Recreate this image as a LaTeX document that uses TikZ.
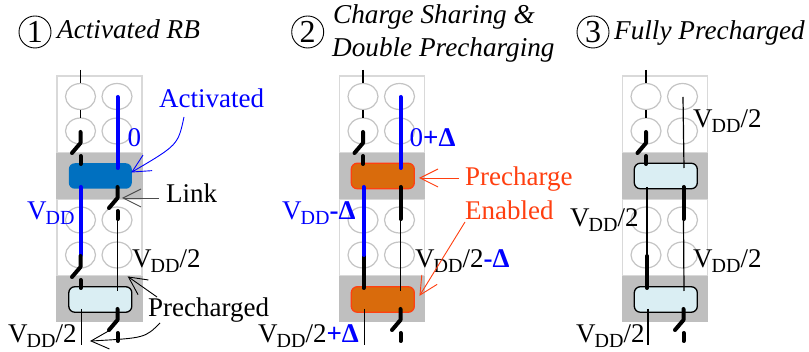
\documentclass[tikz,border=0pt]{standalone}
\usepackage{fontspec}
\setmainfont{Liberation Serif}
\usetikzlibrary{arrows.meta}
\definecolor{bandgray}{HTML}{BFBFBF}
\definecolor{framegray}{HTML}{D9D9D9}
\definecolor{cellgray}{HTML}{C4C4C4}
\definecolor{actblue}{HTML}{0070C0}
\definecolor{preblue}{HTML}{DAEEF3}
\definecolor{preorange}{HTML}{D96B0C}
\definecolor{prered}{HTML}{FF3F10}
\newcommand{\VDD}{V\kern-1pt\raisebox{-5pt}{\fontsize{20}{20}\selectfont DD}}
\newcommand{\bDelta}{\textbf{Δ}}
\pgfdeclarearrow{
  name = VeeHead,
  setup code = {
    \pgfarrowssettipend{0pt}
    \pgfarrowssetlineend{-0.5pt}
    \pgfarrowssetvisualbackend{-1pt}
    \pgfarrowssetbackend{-18pt}
    \pgfarrowshullpoint{0pt}{0pt}
    \pgfarrowshullpoint{-18pt}{9pt}
    \pgfarrowshullpoint{-18pt}{-9pt}
  },
  drawing code = {
    \pgfsetdash{}{0pt}
    \pgfpathmoveto{\pgfpoint{-18pt}{9pt}}
    \pgfpathlineto{\pgfpoint{0pt}{0pt}}
    \pgfpathlineto{\pgfpoint{-18pt}{-9pt}}
    \pgfusepathqstroke
  }
}
\tikzset{
  lbl/.style={inner sep=0pt,anchor=base west,font=\fontsize{27}{30}\selectfont},
  ttl/.style={inner sep=0pt,anchor=base west,font=\fontsize{27.2}{30}\selectfont\itshape},
  numc/.style={draw=black,line width=0.9pt,circle,minimum size=32pt,inner sep=0pt,font=\fontsize{32}{32}\selectfont},
  framebox/.style={draw=framegray,line width=1.2pt,fill=white},
  precell/.style={rectangle,rounded corners=6pt,minimum width=63pt,minimum height=25.5pt,inner sep=0pt},
  boxact/.style={precell,fill=actblue},
  boxpre/.style={precell,fill=preblue,draw=black,line width=1.3pt},
  boxen/.style={precell,fill=preorange,draw=prered,line width=1.3pt},
  hair/.style={black,line width=1.2pt},
  fat/.style={black,line width=4pt,line cap=round,line join=round},
  mid/.style={black,line width=2.4pt},
  bluew/.style={blue,line width=4pt,line cap=round},
  barb/.style={-{VeeHead},line width=0.9pt},
}
% switch: vertical stub, diagonal, and short lower piece
\newcommand{\sw}[2]{%
  \draw[fat] (#1,#2) -- (#1,#2+11) -- (#1-8.5,#2+21);
  \draw[fat] (#1,#2+24) -- (#1,#2+32);}
\newcommand{\panelbase}[1]{%
  \begin{scope}[xshift=#1pt]
    \draw[framebox] (57,76) rectangle (142,153);
    \draw[framebox] (57,199) rectangle (142,276);
    \fill[bandgray] (56.4,153) rectangle (142.6,199.5);
    \fill[bandgray] (56.4,276) rectangle (142.6,322);
    \foreach \cx in {80.5,117}{
      \foreach \cy in {96.5,131,220,255}{
        \draw[cellgray,line width=1.2pt] (\cx,\cy) ellipse [x radius=15,y radius=13];
      }
    }
  \end{scope}}
\begin{document}
\begin{tikzpicture}[x=1pt,y=-1pt]
\useasboundingbox (0,0) rectangle (809,352);
\fill[white] (0,0) rectangle (809,352);
\panelbase{0}
\panelbase{282.5}
\panelbase{565.5}

% ---- panel 1
\node[numc] (n1) at (35,32) {1};
\node[ttl] (t1) at (57,39) {Activated RB};
\node[boxact] (a1) at (100.3,176) {};
\node[boxpre] (a2) at (100.3,299.5) {};
\draw[hair] (80.5,70) -- (80.5,83);
\draw[hair] (80.5,110) -- (80.5,118);
\sw{80.5}{132}
\draw[bluew] (117.5,97) -- (117.5,168);
\draw[bluew] (80.5,187) -- (80.5,255);
\sw{80.5}{256}
\sw{117.5}{187}
\draw[hair] (117.5,218) -- (117.5,291);
\sw{117.5}{309}
\draw[hair] (81.5,309) -- (81.5,345);

% ---- panel 2
\node[numc] (n2) at (307.7,32) {2};
\node[ttl] (t2a) at (333,24) {Charge Sharing \&};
\node[ttl] (t2b) at (332,57) {Double Precharging};
\node[boxen] (b1) at (382.8,176) {};
\node[boxen] (b2) at (382.8,299.5) {};
\draw[hair] (363,70) -- (363,83);
\draw[hair] (363,110) -- (363,118);
\sw{363}{132}
\draw[bluew] (400.5,97) -- (400.5,168);
\draw[fat] (363.5,255) -- (363.5,288);
\draw[bluew] (363.5,187) -- (363.5,255);
\draw[fat] (400.5,187) -- (400.5,219);
\draw[hair] (400.5,219) -- (400.5,291);
\sw{400.5}{309}
\draw[hair] (364.5,309) -- (364.5,345);

% ---- panel 3
\node[numc] (n3) at (593,32) {3};
\node[ttl] (t3) at (614,40) {Fully Precharged};
\node[boxpre] (c1) at (665.8,176) {};
\node[boxpre] (c2) at (665.8,299.5) {};
\draw[mid] (646,70) -- (646,83);
\draw[mid] (646,110) -- (646,118);
\sw{646}{132}
\draw[hair] (683,97) -- (684,168);
\draw[hair] (647,187) -- (647,255);
\draw[fat] (647,256) -- (647,288);
\draw[fat] (683.5,187) -- (683.5,219);
\draw[hair] (683.5,219) -- (684,291);
\sw{683.5}{309}
\draw[hair] (648,309) -- (648,345);

% ---- labels panel 1
\node[lbl,text=blue] (lact) at (159,108) {Activated};
\node[lbl,text=blue] (lzero) at (127.5,147) {0};
\node[lbl] (llink) at (166,203) {Link};
\node[lbl,text=blue] (lvdd) at (27,220) {\VDD};
\node[lbl] (lvh) at (132,268) {\VDD/2};
\node[lbl] (lpre) at (148,317) {Precharged};
\node[lbl] (lvhb) at (8,343) {\VDD/2};
\coordinate (tipact) at (132,172);
\coordinate (tiplink) at (123,198);
\coordinate (tipp1) at (128.5,277);
\coordinate (tipp2) at (91,341);
\draw[barb,blue] ([shift={(25,9)}]lact.base west) .. controls (178,145) .. (tipact);
\draw[barb,black!70] ([shift={(-7,-5)}]llink.base west) -- (tiplink);
\draw[barb] ([shift={(9,-20)}]lpre.base west) -- (tipp1);
\draw[barb] ([shift={(12,6)}]lpre.base west) .. controls (145,338) .. (tipp2);

% ---- labels panel 2
\node[lbl,text=blue] (l0d) at (409.5,147) {0\textbf{+}\bDelta};
\node[lbl,text=prered] (lpc) at (465,186) {Precharge};
\node[lbl,text=prered] (len) at (465,220) {Enabled};
\node[lbl,text=blue] (lvd) at (282,220) {\VDD\textbf{-}\bDelta};
\node[lbl] (lvm) at (415,268) {\VDD/2\textcolor{blue}{\textbf{-}\bDelta}};
\node[lbl] (lvp) at (258,343) {\VDD/2\textcolor{blue}{\textbf{+}\bDelta}};
\coordinate (tippc) at (420,178);
\coordinate (tipen) at (420,295);
\draw[barb,prered] ([shift={(-6,-8)}]lpc.base west) -- (tippc);
\draw[barb,prered] ([shift={(0,2)}]len.base west) -- (tipen);

% ---- labels panel 3
\node[lbl] (lc1) at (693,128) {\VDD/2};
\node[lbl] (lc2) at (570,227) {\VDD/2};
\node[lbl] (lc3) at (693,268) {\VDD/2};
\node[lbl] (lc4) at (576,343) {\VDD/2};
\end{tikzpicture}
\end{document}
